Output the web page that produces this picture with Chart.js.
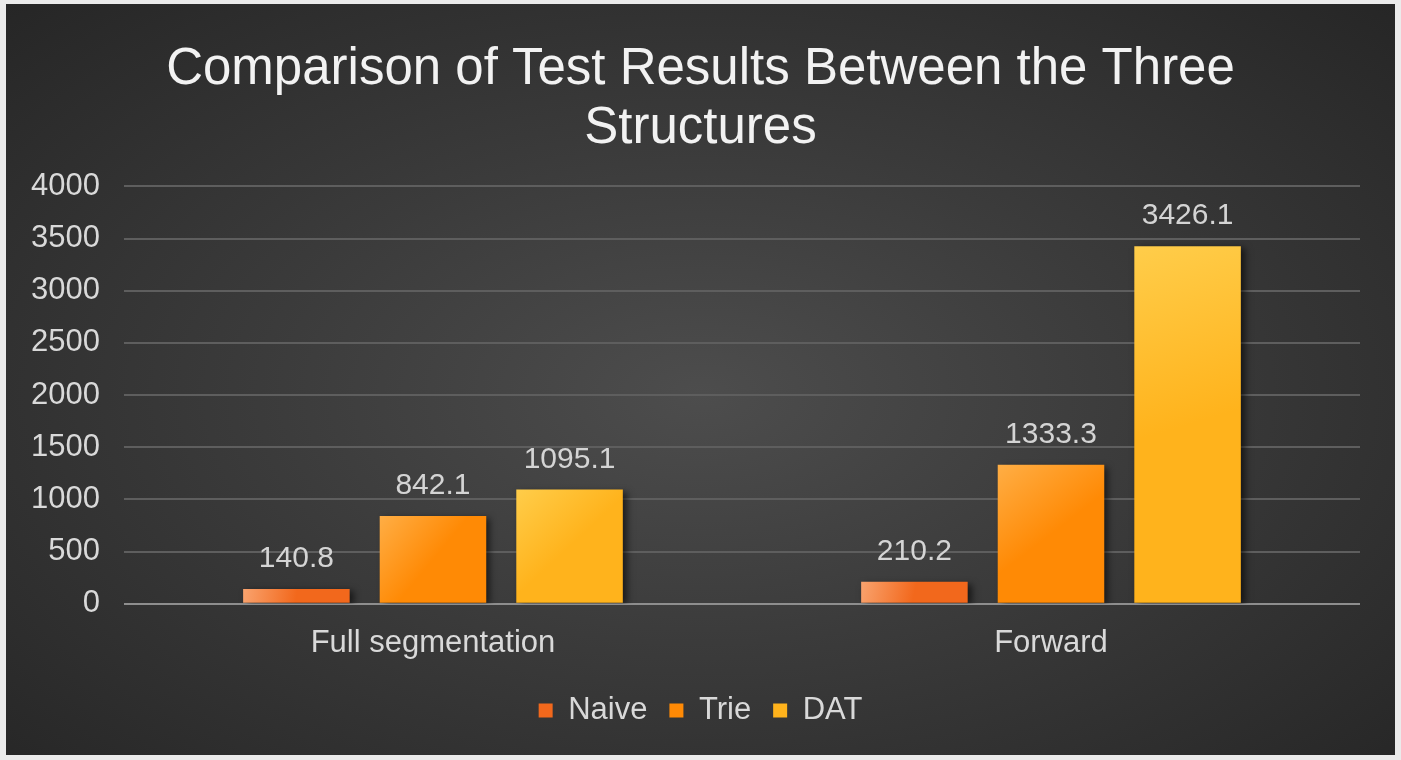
<!DOCTYPE html>
<html>
<head>
<meta charset="utf-8">
<script src="https://cdn.jsdelivr.net/npm/chart.js@4"></script>
<style>
  html, body { margin: 0; padding: 0; background: #ebebeb; }
  #frame {
    position: absolute; left: 6px; top: 4px; width: 1389px; height: 751px;
    background: radial-gradient(ellipse at 50% 52%, #4d4d4d 0%, #3b3b3b 45%, #262626 100%);
  }
</style>
</head>
<body>
<div id="frame"><canvas id="chart"></canvas></div>
<script>
const categories = ['Full segmentation', 'Forward'];
const seriesNames = ['Naive', 'Trie', 'DAT'];
const naive = [140.8, 210.2];
const trie = [842.1, 1333.3];
const dat = [1095.1, 3426.1];
const yTicks = [0, 500, 1000, 1500, 2000, 2500, 3000, 3500, 4000];

const CAT_PCT = 0.663;
const BAR_PCT = 0.78;
const FONT = '"Liberation Sans", Arial, sans-serif';

// light / dark end of each bar's gradient
const shades = [
  ['#f9a36e', '#f2681c'],
  ['#ffae45', '#ff8a05'],
  ['#ffcd4a', '#ffb31c'],
];

function barFill(c) {
  const [light, dark] = shades[c.datasetIndex];
  const chart = c.chart;
  const x = chart.scales.x, y = chart.scales.y;
  if (c.type !== 'data' || !x || !y || !chart.chartArea) return dark;
  const n = seriesNames.length;
  const slot = (x.width / categories.length) * CAT_PCT / n;
  const center = x.getPixelForValue(c.dataIndex) + (c.datasetIndex - (n - 1) / 2) * slot;
  const half = slot * BAR_PCT / 2;
  const top = y.getPixelForValue(c.raw);
  const base = y.getPixelForValue(0);
  const g = chart.ctx.createLinearGradient(center - half, top, center + half, base);
  g.addColorStop(0, light);
  g.addColorStop(0.5, dark);
  g.addColorStop(1, dark);
  return g;
}

const barShadow = {
  id: 'barShadow',
  beforeDatasetsDraw(chart) {
    const ctx = chart.ctx;
    ctx.save();
    ctx.shadowColor = 'rgba(0,0,0,0.6)';
    ctx.shadowBlur = 7;
    ctx.shadowOffsetX = 4;
    ctx.shadowOffsetY = 2;
  },
  afterDatasetsDraw(chart) {
    chart.ctx.restore();
  }
};

const valueLabels = {
  id: 'valueLabels',
  afterDraw(chart) {
    const ctx = chart.ctx;
    ctx.save();
    ctx.font = '30px ' + FONT;
    ctx.fillStyle = '#d4d4d4';
    ctx.textAlign = 'center';
    ctx.textBaseline = 'bottom';
    chart.data.datasets.forEach((ds, i) => {
      chart.getDatasetMeta(i).data.forEach((bar, j) => {
        ctx.fillText(ds.data[j].toFixed(1), bar.x, bar.y - 15);
      });
    });
    ctx.restore();
  }
};

new Chart(document.getElementById('chart'), {
  type: 'bar',
  data: {
    labels: categories,
    datasets: [naive, trie, dat].map((values, i) => ({
      label: seriesNames[i],
      data: values,
      backgroundColor: barFill,
      borderWidth: 0,
      categoryPercentage: CAT_PCT,
      barPercentage: BAR_PCT,
    })),
  },
  options: {
    responsive: true,
    maintainAspectRatio: false,
    animation: false,
    layout: { padding: { left: 1, right: 1, top: 0, bottom: 19 } },
    plugins: {
      title: {
        display: true,
        text: ['Comparison of Test Results Between the Three', 'Structures'],
        color: '#f2f2f2',
        font: { family: FONT, size: 51, weight: 'normal', lineHeight: 1.16 },
        padding: { top: 36, bottom: 28 },
      },
      legend: {
        display: true,
        position: 'bottom',
        labels: {
          color: '#d9d9d9',
          font: { family: FONT, size: 31 },
          boxWidth: 14,
          boxHeight: 14,
          padding: 22,
          generateLabels(chart) {
            return seriesNames.map((name, i) => ({
              text: name,
              fillStyle: shades[i][1],
              strokeStyle: shades[i][1],
              lineWidth: 0,
              fontColor: '#d9d9d9',
              datasetIndex: i,
            }));
          },
        },
      },
      tooltip: { enabled: false },
    },
    scales: {
      x: {
        grid: { display: false },
        border: { display: false },
        ticks: { color: '#d9d9d9', font: { family: FONT, size: 31 }, padding: 13 },
        afterFit(axis) { axis.height -= 2; },
      },
      y: {
        min: 0,
        max: 4000,
        afterBuildTicks(axis) { axis.ticks = yTicks.map(v => ({ value: v })); },
        grid: {
          color: c => (c.tick.value === 0 ? '#8e8e8e' : '#5e5e5e'),
          lineWidth: 2,
          drawTicks: false,
        },
        border: { display: false },
        ticks: {
          color: '#d9d9d9',
          font: { family: FONT, size: 31 },
          padding: 24,
          callback: v => String(v),
        },
      },
      // empty right-hand gutter so the plot ends where the reference does
      gutter: {
        type: 'linear',
        position: 'right',
        grid: { display: false },
        border: { display: false },
        ticks: { display: false },
        afterFit(axis) { axis.width = 34; },
      },
    },
  },
  plugins: [barShadow, valueLabels],
});
</script>
</body>
</html>
